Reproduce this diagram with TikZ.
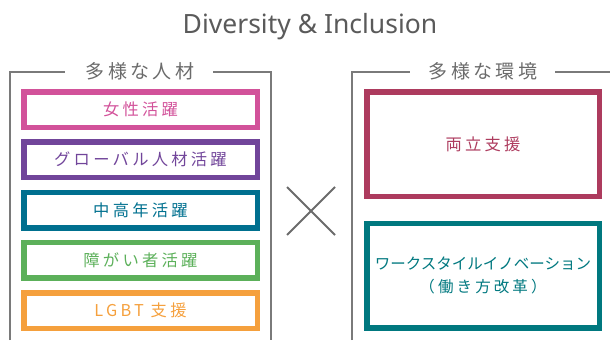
\documentclass[tikz,border=0pt]{standalone}
\usepackage{fontspec}
\setmainfont{Noto Sans}
\newfontfamily\jpfont{Noto Sans CJK JP}
\newfontfamily\jpsp[LetterSpace=20]{Noto Sans CJK JP}
\newfontfamily\jplab[LetterSpace=18]{Noto Sans CJK JP}
\definecolor{cpink}{HTML}{D2529A}
\definecolor{cpurple}{HTML}{71459A}
\definecolor{cblue}{HTML}{00708F}
\definecolor{cgreen}{HTML}{5CB05A}
\definecolor{corange}{HTML}{F5A03D}
\definecolor{ccrimson}{HTML}{AD3B5E}
\definecolor{cteal}{HTML}{00787F}
\definecolor{cgray}{HTML}{6B6B6B}
\definecolor{ctitle}{HTML}{5A5A5A}
\begin{document}
\begin{tikzpicture}[x=1pt,y=-1pt,
  itembox/.style={draw=#1, text=#1, line width=5.5pt, minimum width=233.5pt,
    minimum height=35.5pt, inner sep=0pt, font=\jpsp\fontsize{16.3}{20}\selectfont},
  envbox/.style={draw=#1, text=#1, line width=5.5pt, minimum width=232.5pt,
    minimum height=104.5pt, inner sep=0pt, align=center},
  grouplabel/.style={text=cgray, inner xsep=0pt, inner ysep=0pt, font=\jplab\fontsize{19}{22}\selectfont},
  bracket/.style={draw=cgray!90, line width=1.4pt},
  crossline/.style={draw=cgray, line width=2pt}]
\useasboundingbox (0,0) rectangle (610,340);

\node[anchor=base, text=ctitle, font=\fontsize{26.5}{30}\selectfont] (title) at (310,33) {Diversity \& Inclusion};

% left group
\node[grouplabel] (lpeople) at (140,71.5) {多様な人材};
\coordinate (lbl) at (10,340);
\coordinate (ltl) at (10,72);
\coordinate (lg1) at (65,72);
\coordinate (lg2) at (213,72);
\coordinate (ltr) at (271,72);
\coordinate (lbr) at (271,340);
\draw[bracket] (lbl) -- (ltl) -- (lg1);
\draw[bracket] (lg2) -- (ltr) -- (lbr);

\node[itembox=cpink] (b1) at (140.5,109.5) {女性活躍};
\node[itembox=cpurple] (b2) at (140.5,159.7) {グローバル人材活躍};
\node[itembox=cblue] (b3) at (140.5,210.2) {中高年活躍};
\node[itembox=cgreen] (b4) at (140.5,260.4) {障がい者活躍};
\node[itembox=corange] (b5) at (140.5,310.5) {LGBT 支援};

% cross
\coordinate (x1) at (287,187);
\coordinate (x2) at (335,235);
\coordinate (x3) at (287,235);
\coordinate (x4) at (335,187);
\draw[crossline] (x1) -- (x2);
\draw[crossline] (x3) -- (x4);

% right group
\node[grouplabel] (renv) at (483,71.5) {多様な環境};
\coordinate (rbl) at (352,340);
\coordinate (rtl) at (352,72);
\coordinate (rg1) at (410,72);
\coordinate (rg2) at (555,72);
\coordinate (rtr) at (610,72);
\draw[bracket] (rbl) -- (rtl) -- (rg1);
\draw[bracket] (rg2) -- (rtr);

\node[envbox=ccrimson, font=\jpsp\fontsize{16.3}{20}\selectfont] (e1) at (483,144.3) {両立支援};
\node[envbox=cteal, font=\jpfont\fontsize{15.5}{23}\selectfont] (e2) at (483,275.9) {ワークスタイルイノベーション\\{\jpsp （働き方改革）}};
\end{tikzpicture}
\end{document}
